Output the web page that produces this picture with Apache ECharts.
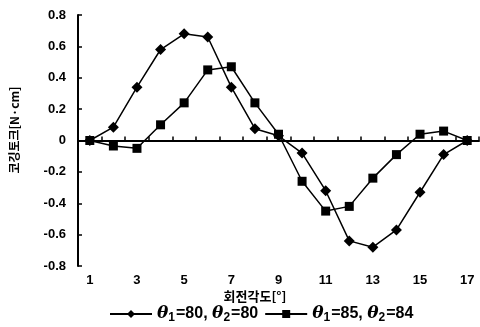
<!DOCTYPE html>
<html>
<head>
<meta charset="utf-8">
<script src="https://cdn.jsdelivr.net/npm/echarts@6/dist/echarts.min.js"></script>
<style>
html,body{margin:0;padding:0;background:#fff;}
#chart{width:480px;height:327px;}
</style>
</head>
<body>
<div id="chart"></div>
<script>
var angles = ['1','2','3','4','5','6','7','8','9','10','11','12','13','14','15','16','17'];
var torqueA = [0.0, 0.085, 0.34, 0.58, 0.68, 0.66, 0.34, 0.075, 0.03, -0.08, -0.32, -0.64, -0.68, -0.57, -0.33, -0.09, 0.0];
var torqueB = [0.0, -0.035, -0.05, 0.10, 0.24, 0.45, 0.47, 0.24, 0.04, -0.26, -0.45, -0.42, -0.24, -0.09, 0.04, 0.06, 0.0];
var nameA = 'θ1=80, θ2=80';
var nameB = 'θ1=85, θ2=84';

var myChart = echarts.init(document.getElementById('chart'));
var lblFont = {color:'#000', fontFamily:'Liberation Sans', fontWeight:'bold', fontSize:13};
var option = {
    backgroundColor:'#fff',
    animation:false,
    grid:{left:78, right:1, top:15, bottom:61, containLabel:false},
    graphic:[
        {type:'text', x:14, y:130, rotation:Math.PI/2, originX:0, originY:0,
         style:{text:'코깅토크[N·cm]', fill:'#000', font:'bold 12px "Noto Sans CJK KR"', align:'center', verticalAlign:'middle'}},
        {type:'text', x:255, y:296,
         style:{text:'회전각도[°]', fill:'#000', font:'bold 13px "Noto Sans CJK KR"', align:'center', verticalAlign:'middle'}}
    ],
    legend:{
        bottom:-2, left:104, itemWidth:42, itemHeight:10, itemGap:6,
        formatter:function(name){
            var m = name.match(/θ1=(\d+), θ2=(\d+)/);
            return '{t|θ}{s|1}{n|=' + m[1] + ', }{t|θ}{s|2}{n|=' + m[2] + '}';
        },
        textStyle:{
            color:'#000', fontFamily:'Liberation Sans', fontWeight:'bold', fontSize:16,
            rich:{
                t:{fontFamily:'DejaVu Serif', fontStyle:'italic', fontWeight:'bold', fontSize:17, color:'#000'},
                s:{fontFamily:'Liberation Sans', fontWeight:'bold', fontSize:12, color:'#000', padding:[8,1,0,0]},
                n:{fontFamily:'Liberation Sans', fontWeight:'bold', fontSize:16, color:'#000'}
            }
        },
        data:[nameA, nameB]
    },
    xAxis:{
        type:'category',
        data:angles,
        boundaryGap:true,
        axisLine:{onZero:true, lineStyle:{color:'#000', width:2}},
        axisTick:{show:true, inside:true, length:4, interval:0, lineStyle:{color:'#000', width:1.5}},
        axisLabel:Object.assign({interval:1, margin:8}, lblFont),
        splitLine:{show:false}
    },
    yAxis:{
        type:'value',
        min:-0.8, max:0.8, interval:0.2,
        axisLine:{show:true, lineStyle:{color:'#000', width:2}},
        axisTick:{show:true, inside:true, length:4, lineStyle:{color:'#000', width:1.5}},
        axisLabel:Object.assign({margin:12, formatter:function(v){
            var r = Math.round(v*10)/10; return r === 0 ? '0' : r.toFixed(1);
        }}, lblFont),
        splitLine:{show:false}
    },
    series:[
        {
            name:nameA, type:'line', data:torqueA,
            symbol:'diamond', symbolSize:11, showAllSymbol:true,
            lineStyle:{color:'#000', width:1.5},
            itemStyle:{color:'#000'}
        },
        {
            name:nameB, type:'line', data:torqueB,
            symbol:'rect', symbolSize:9, showAllSymbol:true,
            lineStyle:{color:'#000', width:1.5},
            itemStyle:{color:'#000'}
        }
    ]
};
myChart.setOption(option);
</script>
</body>
</html>
